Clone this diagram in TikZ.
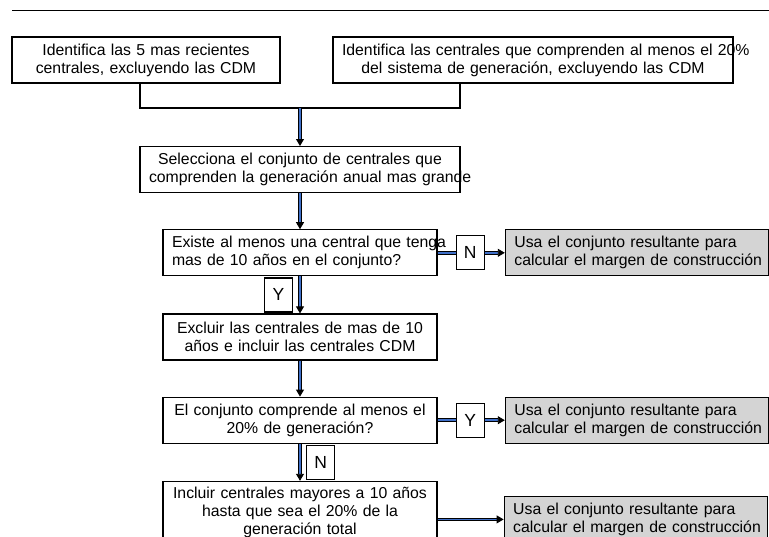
\documentclass[tikz,border=0pt]{standalone}
\usepackage{fontspec}
\setmainfont{Liberation Sans}
\usetikzlibrary{positioning, arrows.meta, calc}
\definecolor{lineblue}{HTML}{3F6FC8}
\definecolor{resultfill}{HTML}{D4D4D4}

\begin{document}
\begin{tikzpicture}[
    x=1pt, y=-1pt,
    node distance=36pt and 18pt,
    stepbox/.style={draw, line width=1.2pt, fill=white, minimum height=46pt, inner xsep=9pt, inner ysep=0pt,
                    font=\fontsize{15.8}{18}\selectfont, align=center},
    askbox/.style={stepbox, align=left},
    outbox/.style={stepbox, fill=resultfill, align=left, text width=245pt},
    tagbox/.style={draw, line width=1.2pt, fill=white, minimum width=28pt, minimum height=34pt,
                   inner sep=0pt, font=\fontsize{17.5}{20}\selectfont},
    link/.style={line width=1.6pt},
    pipe/.style={draw=black, line width=0.9pt, double=lineblue, double distance=1.8pt},
    arrow/.style={pipe, -{Triangle[length=7pt, width=8pt]}},
]
\useasboundingbox (0,0) rectangle (769,536);

% ============================================================
% top: two starting sets, merged into one selection
% ============================================================
\draw[line width=0.8pt] (12,10) -- (769,10);

\node[stepbox, text width=250pt] (recent) at (146,60) {Identifica las 5 mas recientes\\centrales, excluyendo las CDM};
\node[stepbox, text width=382pt] (share) at (533,60) {\mbox{Identifica las centrales que comprenden al menos el 20\%}\\del sistema de generación, excluyendo las CDM};

\coordinate (merge) at (300,108);
\coordinate (left-drop) at (140,108);
\coordinate (right-drop) at (460,108);
\draw[link] (recent.south -| left-drop) -- (left-drop) -- (right-drop) -- (share.south -| right-drop);

\node[stepbox, text width=302pt, below=38pt of merge] (select) {Selecciona el conjunto de centrales que\\\mbox{comprenden la generación anual mas grande}};
\draw[arrow] (merge) -- (select);

% ============================================================
% checks down the middle
% ============================================================
\node[askbox, text width=256pt, below=36pt of select] (older) {\mbox{Existe al menos una central que tenga}\\mas de 10 años en el conjunto?};
\node[stepbox, text width=256pt, below=37pt of older] (exclude) {Excluir las centrales de mas de 10\\años e incluir las centrales CDM};
\node[stepbox, text width=256pt, below=36pt of exclude] (enough) {\mbox{El conjunto comprende al menos el}\\20\% de generación?};
\node[stepbox, text width=256pt, minimum height=62pt, below=37pt of enough] (include) {Incluir centrales mayores a 10 años\\hasta que sea el 20\% de la\\generación total};

\draw[arrow] (select) -- (older);
\draw[arrow] (older) -- (exclude) node[tagbox, midway, left=7pt] (yes-old) {Y};
\draw[arrow] (exclude) -- (enough);
\draw[arrow] (enough) -- (include) node[tagbox, midway, right=6pt] (no-enough) {N};

% ============================================================
% results on the right
% ============================================================
\node[tagbox, right=18pt of older] (no-old) {N};
\node[outbox, right=20pt of no-old] (result1) {Usa el conjunto resultante para\\\mbox{calcular el margen de construcción}};
\node[tagbox, right=18pt of enough] (yes-enough) {Y};
\node[outbox, right=20pt of yes-enough] (result2) {Usa el conjunto resultante para\\\mbox{calcular el margen de construcción}};
\node[outbox, right=66pt of include, yshift=-7pt] (result3) {Usa el conjunto resultante para\\\mbox{calcular el margen de construcción}};

\draw[pipe] (older) -- (no-old);
\draw[arrow] (no-old) -- (result1);
\draw[pipe] (enough) -- (yes-enough);
\draw[arrow] (yes-enough) -- (result2);
\draw[arrow] (include.east |- result3.west) -- (result3.west);

\end{tikzpicture}
\end{document}
